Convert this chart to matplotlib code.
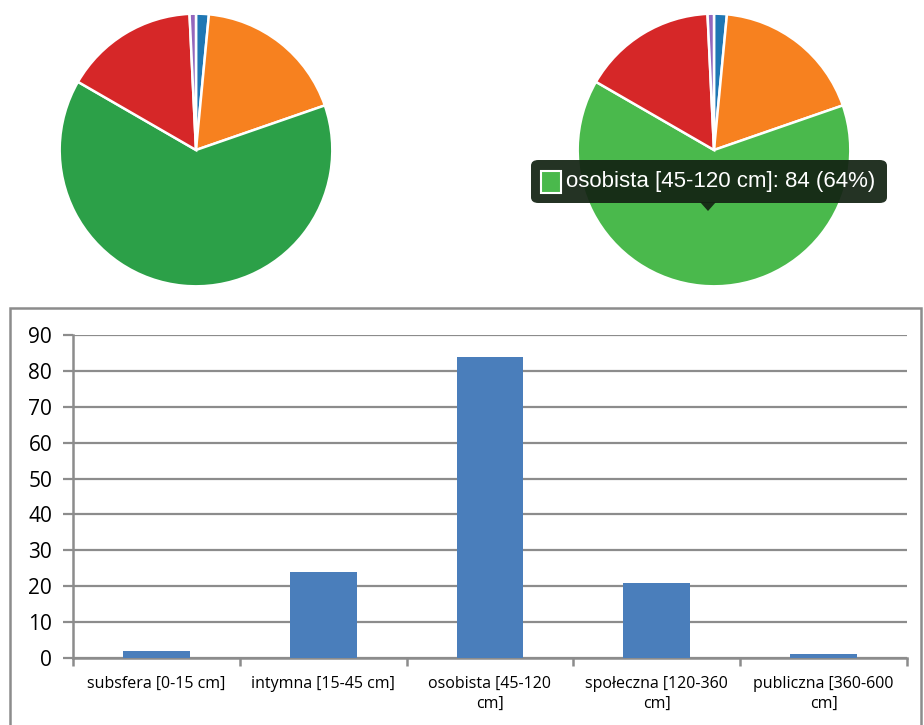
""" Sfery dystansu: dwa wykresy kołowe i słupkowy """
import matplotlib
matplotlib.use('Agg')
import matplotlib.pyplot as plt
from matplotlib.patches import Rectangle, FancyBboxPatch, Polygon

# dane
categories = ['subsfera [0-15 cm]', 'intymna [15-45 cm]', 'osobista [45-120 cm]',
              'społeczna [120-360 cm]', 'publiczna [360-600 cm]']
bar_labels = ['subsfera [0-15 cm]', 'intymna [15-45 cm]', 'osobista [45-120\ncm]',
              'społeczna [120-360\ncm]', 'publiczna [360-600\ncm]']
counts = [2, 24, 84, 21, 1]
pie_colors = ['#1f77b4', '#f7811f', '#2ca048', '#d62728', '#9467bd']
hover_colors = ['#1f77b4', '#f7811f', '#4ab94c', '#d62728', '#9467bd']
y_ticks = [0, 10, 20, 30, 40, 50, 60, 70, 80, 90]

W, H = 924, 725
fig = plt.figure(figsize=(W / 100, H / 100), dpi=100)


def px_axes(x0, y0, x1, y1):
    """ osie podane w pikselach (od lewego górnego rogu) """
    return fig.add_axes([x0 / W, 1 - y1 / H, (x1 - x0) / W, (y1 - y0) / H])


# lewy wykres kołowy
ax1 = px_axes(59, 13, 333, 287)
ax1.pie(counts, colors=pie_colors, startangle=90, counterclock=False, radius=1,
        wedgeprops=dict(edgecolor='white', linewidth=1.8))
ax1.set_xlim(-1.005, 1.005)
ax1.set_ylim(-1.005, 1.005)
ax1.axis('off')

# prawy wykres kołowy z podpowiedzią
ax2 = px_axes(577, 13, 851, 287)
ax2.pie(counts, colors=hover_colors, startangle=90, counterclock=False, radius=1,
        wedgeprops=dict(edgecolor='white', linewidth=1.8))
ax2.set_xlim(-1.005, 1.005)
ax2.set_ylim(-1.005, 1.005)
ax2.axis('off')

# tooltip
tip_x0, tip_y0, tip_x1, tip_y1 = 531, 160, 887, 203
fig.patches.append(FancyBboxPatch((tip_x0 / W, 1 - tip_y1 / H),
                                  (tip_x1 - tip_x0) / W, (tip_y1 - tip_y0) / H,
                                  boxstyle='round,pad=0,rounding_size=0.008',
                                  transform=fig.transFigure, facecolor='#132313',
                                  edgecolor='none', alpha=0.93, zorder=5))
fig.patches.append(Polygon([[700 / W, 1 - 202 / H], [716 / W, 1 - 202 / H],
                            [708 / W, 1 - 211 / H]], closed=True,
                           transform=fig.transFigure, facecolor='#132313',
                           edgecolor='none', alpha=0.93, zorder=5))
fig.patches.append(Rectangle((541 / W, 1 - 193 / H), 20 / W, 22 / H,
                             transform=fig.transFigure, facecolor=hover_colors[2],
                             edgecolor='white', linewidth=1.5, zorder=6))
fig.text(566 / W, 1 - 182 / H,
         '%s: %d (%d%%)' % (categories[2], counts[2], round(100 * counts[2] / sum(counts))),
         color='white', fontsize=16, family='Liberation Sans', va='center', ha='left', zorder=7)

# ramka wykresu słupkowego
fig.patches.append(Rectangle((10 / W, -0.01), 911 / W, (1 - 308 / H) + 0.01,
                             transform=fig.transFigure, facecolor='none',
                             edgecolor='#8c8c8c', linewidth=1.8, zorder=1))

# wykres słupkowy
ax3 = px_axes(73, 335, 907, 658)
x = list(range(len(counts)))
ax3.bar(x, counts, width=0.4, color='#4a7ebb', zorder=3)
ax3.set_xlim(-0.5, len(counts) - 0.5)
ax3.set_ylim(0, 90)
ax3.set_yticks(y_ticks)
ax3.set_yticklabels([str(v) for v in y_ticks], fontsize=15, family='Open Sans')
ax3.yaxis.grid(True, color='#8c8c8c', linewidth=1.6, zorder=0)
ax3.set_xticks([i - 0.5 for i in range(len(counts) + 1)])
ax3.set_xticklabels([])
ax3.set_xticks(x, minor=True)
ax3.set_xticklabels(bar_labels, minor=True, fontsize=11.5, family='Open Sans',
                    ha='center', multialignment='center', va='top', linespacing=1.3)
ax3.tick_params(axis='x', which='major', length=6, width=1.8, color='#8c8c8c', direction='out')
ax3.tick_params(axis='x', which='minor', length=0, pad=13)
ax3.tick_params(axis='y', length=7, width=1.6, color='#8c8c8c', pad=8)
for side in ['top', 'right']:
    ax3.spines[side].set_visible(False)
for side in ['left', 'bottom']:
    ax3.spines[side].set_color('#8c8c8c')
    ax3.spines[side].set_linewidth(1.8)

fig.savefig('out.png', dpi=100)
